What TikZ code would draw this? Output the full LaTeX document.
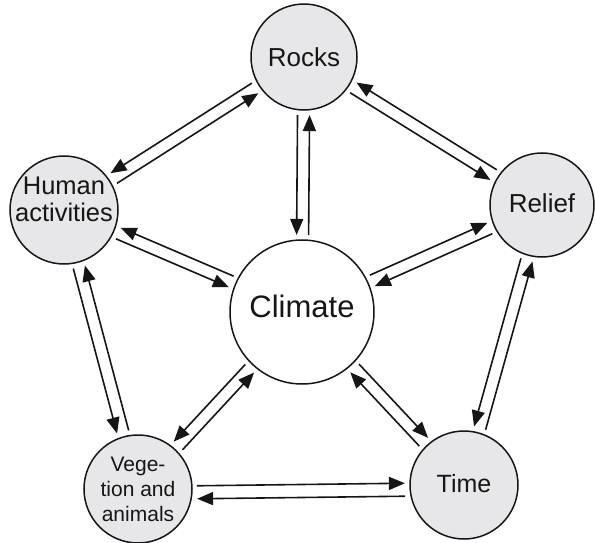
\documentclass[tikz,border=0pt]{standalone}
\usepackage{fontspec}
\setmainfont{Liberation Sans}
\usetikzlibrary{arrows.meta,calc}
\definecolor{nodefill}{RGB}{231,231,233}
\definecolor{ink}{RGB}{22,22,22}
\begin{document}
\begin{tikzpicture}[x=1pt,y=-1pt,
  topic/.style={circle, draw=ink, line width=1.5pt, fill=nodefill, inner sep=0pt, text=ink, align=center},
  caption/.style={inner sep=0pt, text=ink, align=center},
  arr/.style={draw=ink, line width=1.6pt, -{Triangle[length=16pt,width=13pt]}},
]
\useasboundingbox (0,0) rectangle (595,543);
\node[topic, minimum size=106pt, font=\fontsize{26}{30}\selectfont] (rocks) at (304,57) {Rocks};
\node[topic, minimum size=108pt] (human) at (64,210) {};
\node[caption, font=\fontsize{25.5}{27}\selectfont] (humantext) at (64,199) {Human\\activities};
\node[topic, minimum size=104pt, font=\fontsize{26}{30}\selectfont, text depth=4pt] (relief) at (542,205) {Relief};
\node[topic, minimum size=144pt, fill=white, font=\fontsize{31}{36}\selectfont, text depth=12pt] (climate) at (302,312) {Climate};
\node[topic, minimum size=108pt, font=\fontsize{21}{25}\selectfont] (vege) at (138,489) {Vege-\\tion and\\animals};
\node[topic, minimum size=108pt, font=\fontsize{25}{30}\selectfont, text depth=4pt] (time) at (464,485) {Time};

% Rocks - Human (right side)
\draw[arr, shorten <=58pt, shorten >=59pt] ($(rocks)!6pt!-90:(human)$) -- ($(human)!6pt!90:(rocks)$);
\draw[arr, shorten <=59pt, shorten >=58pt] ($(human)!6pt!-90:(rocks)$) -- ($(rocks)!6pt!90:(human)$);
% Human - Climate (right side)
\draw[arr, shorten <=59pt, shorten >=77pt] ($(human)!6pt!-90:(climate)$) -- ($(climate)!6pt!90:(human)$);
\draw[arr, shorten <=77pt, shorten >=59pt] ($(climate)!6pt!-90:(human)$) -- ($(human)!6pt!90:(climate)$);
% Rocks - Climate (right side)
\draw[arr, shorten <=58pt, shorten >=77pt] ($(rocks)!6pt!-90:(climate)$) -- ($(climate)!6pt!90:(rocks)$);
\draw[arr, shorten <=77pt, shorten >=58pt] ($(climate)!6pt!-90:(rocks)$) -- ($(rocks)!6pt!90:(climate)$);
% Rocks - Relief (right side)
\draw[arr, shorten <=58pt, shorten >=57pt] ($(rocks)!6pt!-90:(relief)$) -- ($(relief)!6pt!90:(rocks)$);
\draw[arr, shorten <=57pt, shorten >=58pt] ($(relief)!6pt!-90:(rocks)$) -- ($(rocks)!6pt!90:(relief)$);
% Climate - Relief (left side)
\draw[arr, shorten <=77pt, shorten >=57pt] ($(climate)!6pt!90:(relief)$) -- ($(relief)!6pt!-90:(climate)$);
\draw[arr, shorten <=57pt, shorten >=77pt] ($(relief)!6pt!90:(climate)$) -- ($(climate)!6pt!-90:(relief)$);
% Climate - Vege (right side)
\draw[arr, shorten <=77pt, shorten >=59pt] ($(climate)!6pt!-90:(vege)$) -- ($(vege)!6pt!90:(climate)$);
\draw[arr, shorten <=59pt, shorten >=77pt] ($(vege)!6pt!-90:(climate)$) -- ($(climate)!6pt!90:(vege)$);
% Climate - Time (left side)
\draw[arr, shorten <=77pt, shorten >=59pt] ($(climate)!6pt!90:(time)$) -- ($(time)!6pt!-90:(climate)$);
\draw[arr, shorten <=59pt, shorten >=77pt] ($(time)!6pt!90:(climate)$) -- ($(climate)!6pt!-90:(time)$);
% Vege - Time (left side)
\draw[arr, shorten <=59pt, shorten >=59pt] ($(vege)!6.5pt!90:(time) + (0,4)$) -- ($(time)!6.5pt!-90:(vege) + (0,4)$);
\draw[arr, shorten <=59pt, shorten >=59pt] ($(time)!6.5pt!90:(vege) + (0,4)$) -- ($(vege)!6.5pt!-90:(time) + (0,4)$);
% Human - Vege (right side)
\draw[arr, shorten <=59pt, shorten >=59pt] ($(human)!6pt!-90:(vege)$) -- ($(vege)!6pt!90:(human)$);
\draw[arr, shorten <=59pt, shorten >=59pt] ($(vege)!6pt!-90:(human)$) -- ($(human)!6pt!90:(vege)$);
% Relief - Time (right side)
\draw[arr, shorten <=57pt, shorten >=59pt] ($(relief)!6pt!-90:(time)$) -- ($(time)!6pt!90:(relief)$);
\draw[arr, shorten <=59pt, shorten >=57pt] ($(time)!6pt!-90:(relief)$) -- ($(relief)!6pt!90:(time)$);
\end{tikzpicture}
\end{document}
